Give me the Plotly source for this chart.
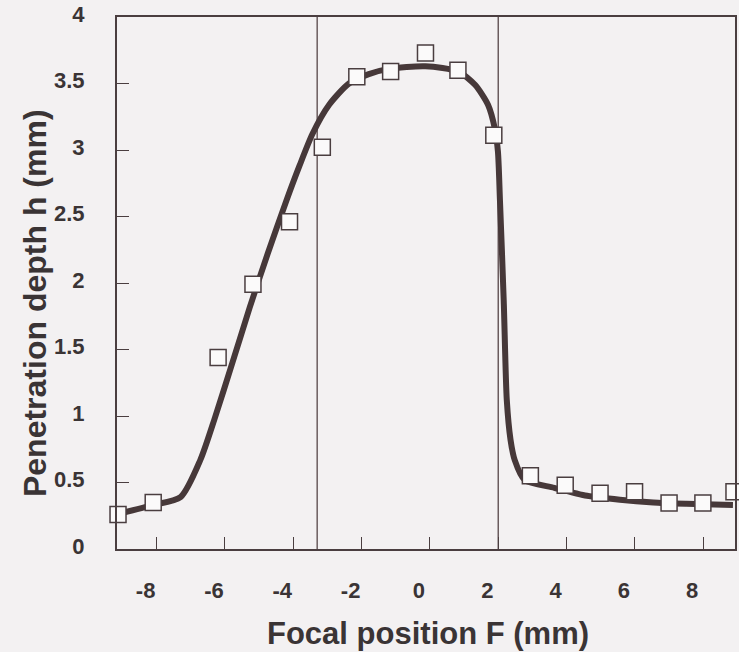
import plotly.graph_objects as go

# Measured penetration depth vs. focal position
focal_pos = [-9.13, -8.10, -6.20, -5.18, -4.11, -3.15, -2.14, -1.15, -0.13, 0.82,
             1.87, 2.94, 3.96, 4.98, 5.99, 7.00, 7.99, 8.90]
depth = [0.26, 0.35, 1.44, 1.99, 2.46, 3.02, 3.55, 3.59, 3.73, 3.60,
         3.11, 0.55, 0.48, 0.42, 0.43, 0.345, 0.345, 0.43]

# Smoothed trend curve
fit_pos = [-9.02, -8.12, -7.30, -6.72, -6.29, -5.77, -5.27, -4.75, -4.20, -3.82,
           -3.44, -2.95, -2.37, -1.79, -1.21, -0.13, 0.83, 1.32, 1.70, 1.90,
           1.99, 2.05, 2.16, 2.25, 2.36, 2.48, 2.77, 3.64, 4.60, 5.56,
           6.54, 7.50, 8.87]
fit_depth = [0.27, 0.33, 0.39, 0.67, 0.99, 1.41, 1.82, 2.22, 2.62, 2.88,
             3.12, 3.34, 3.50, 3.57, 3.61, 3.63, 3.59, 3.49, 3.34, 3.16,
             2.99, 2.62, 1.87, 1.12, 0.82, 0.67, 0.52, 0.46, 0.40, 0.37,
             0.35, 0.34, 0.33]

# Boundaries of the central region
region_bounds = [-3.3, 2.0]

x_ticks = [-8, -6, -4, -2, 0, 2, 4, 6, 8]
y_ticks = [0, 0.5, 1, 1.5, 2, 2.5, 3, 3.5, 4]
y_ticktext = ["0", "0.5", "1", "1.5", "2", "2.5", "3", "3.5", "4"]

BG = "#f3f1f2"
INK = "#4a3e40"
TEXT = "#3a3435"
FONT = "Liberation Sans, Arial, Helvetica, sans-serif"

fig = go.Figure()

fig.add_trace(go.Scatter(
    x=fit_pos, y=fit_depth, mode="lines",
    line=dict(color="#463839", width=6, shape="spline", smoothing=0.7),
    hoverinfo="skip", showlegend=False, cliponaxis=False,
))

fig.add_trace(go.Scatter(
    x=focal_pos, y=depth, mode="markers",
    marker=dict(symbol="square", size=16, color="#fbfafa",
                line=dict(color=INK, width=1.5)),
    showlegend=False, cliponaxis=False,
))

for xb in region_bounds:
    fig.add_shape(type="line", xref="x", yref="paper", x0=xb, x1=xb, y0=0, y1=1,
                  line=dict(color="#6a5c5e", width=1.5), layer="below")

axis_common = dict(
    showgrid=False, zeroline=False, showline=True, mirror=True,
    linecolor=INK, linewidth=2,
    ticks="inside", ticklen=12, tickwidth=1.3, tickcolor=INK,
    tickfont=dict(family=FONT, size=22, color=TEXT, weight="bold"),
    ticklabeloverflow="allow",
)

fig.update_xaxes(
    range=[-9.16, 8.93], tickvals=x_ticks, ticktext=[str(v) for v in x_ticks],
    ticklabelshift=-11, ticklabelstandoff=21, **axis_common,
)
fig.update_yaxes(
    range=[0, 4], tickvals=y_ticks, ticktext=y_ticktext,
    ticklabelshift=-3, ticklabelstandoff=26, **axis_common,
)

fig.add_annotation(
    text="Focal position F (mm)", xref="paper", yref="paper",
    x=0.503, y=-0.158, xanchor="center", yanchor="middle", showarrow=False,
    font=dict(family=FONT, size=31, color=TEXT, weight="bold"),
)
fig.add_annotation(
    text="Penetration depth h (mm)", xref="paper", yref="paper",
    x=-0.133, y=0.462, xanchor="center", yanchor="middle", showarrow=False,
    textangle=-90,
    font=dict(family=FONT, size=32, color=TEXT, weight="bold"),
)

fig.update_layout(
    width=739, height=652,
    margin=dict(l=117, r=2, t=15, b=103),
    paper_bgcolor=BG, plot_bgcolor=BG,
)

fig.write_html("out.html")
